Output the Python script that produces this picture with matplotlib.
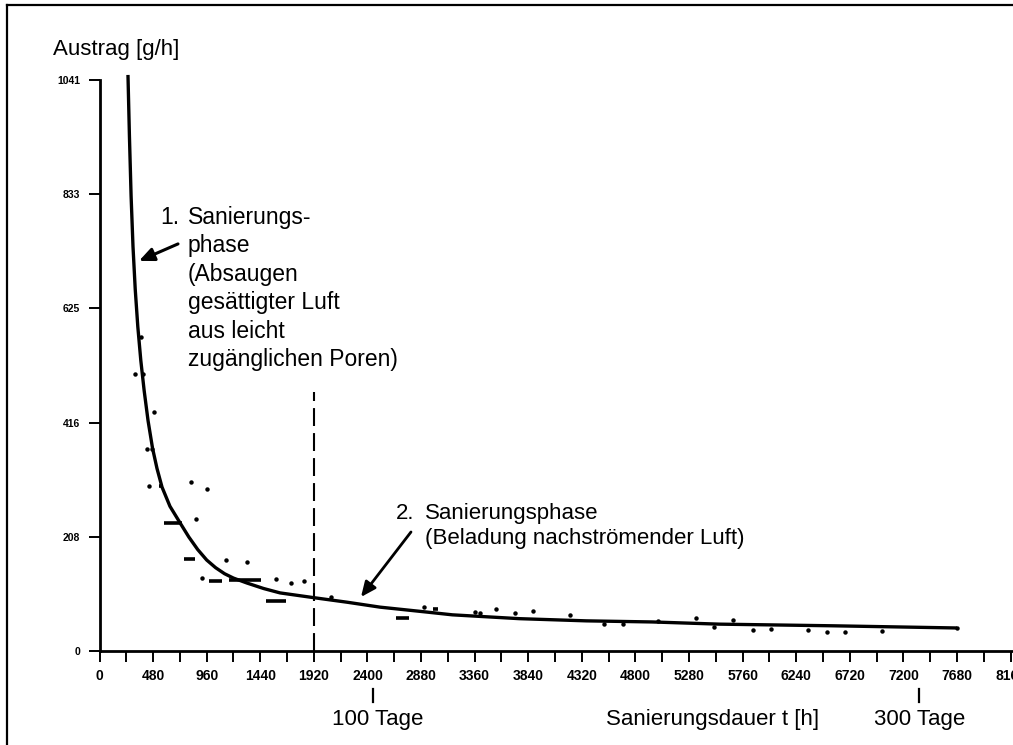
import matplotlib
matplotlib.use("Agg")
import matplotlib.pyplot as plt
from matplotlib.lines import Line2D
from matplotlib.transforms import blended_transform_factory

# ---------------- data ----------------
t_curve = [255, 268, 283, 300, 320, 343, 370, 400, 435, 475, 515, 560, 631, 721,
           800, 880, 960, 1040, 1120, 1200, 1321, 1470, 1617, 1930, 2218, 2513,
           2933, 3160, 3760, 4360, 4950, 5550, 6565, 7680]
v_curve = [1051, 940, 830, 738, 660, 592, 530, 475, 420, 370, 333, 299, 264, 234,
           208, 185, 166, 152, 141, 133, 124, 114, 106, 97, 89, 80,
           71, 66, 59, 55, 53, 49, 46, 42]

t_points = [322, 376, 394, 492, 421, 474, 439, 824, 967, 868, 1137, 1325, 922,
            1585, 1719, 1835, 2077, 2910, 3365, 3410, 3550, 3720, 3885, 4215,
            4520, 4685, 5005, 5345, 5505, 5675, 5850, 6015, 6350, 6515, 6680,
            7010, 7680]
v_points = [506, 573, 506, 436, 369, 369, 301, 308, 295, 241, 166, 162, 133,
            131, 124, 128, 99, 80, 71, 69, 76, 69, 73, 66,
            49, 49, 55, 61, 44, 57, 38, 40, 38, 34, 34,
            36, 42]

dash_start = [537, 582, 761, 985, 1164, 1495, 2659, 2985]
dash_end = [564, 743, 851, 1101, 1450, 1674, 2775, 3030]
dash_value = [301, 234, 168, 128, 129, 91, 61, 76]

x_major = list(range(0, 8161, 480))
x_minor = list(range(0, 8161, 240))
x_labels = [str(v) for v in x_major]
y_ticks = [0, 208, 416, 625, 833, 1041]
y_labels = ["0", "208", "416", "625", "833", "1041"]

phase_boundary_t = 1920
phase_boundary_top = 473
day_marks_t = [2450, 7340]
day_labels = ["100 Tage", "300 Tage"]

REG = ["Liberation Sans", "DejaVu Sans"]
plt.rcParams["font.family"] = REG

W, H = 1013, 745
fig = plt.figure(figsize=(W / 100, H / 100), dpi=100)
ax = fig.add_axes([99.5 / W, (H - 651) / H, (W - 99.5) / W, (651 - 70) / H])
ax.set_xlim(0, 8182)
ax.set_ylim(0, 1060)

# spines
for s in ("top", "right"):
    ax.spines[s].set_visible(False)
ax.spines["left"].set_bounds(0, 1041)
ax.spines["left"].set_linewidth(2.0)
ax.spines["bottom"].set_linewidth(2.0)

ax.set_xticks(x_major)
ax.set_xticklabels(x_labels)
ax.set_xticks(x_minor, minor=True)
ax.set_yticks(y_ticks)
ax.set_yticklabels(y_labels)
ax.tick_params(axis="x", which="both", direction="out", length=8, width=1.4, pad=5)
ax.tick_params(axis="y", which="both", direction="out", length=8, width=1.4, pad=6)
for lab in ax.get_xticklabels():
    lab.set_fontweight("bold")
    lab.set_fontsize(10)
for lab in ax.get_yticklabels():
    lab.set_fontweight("bold")
    lab.set_fontsize(7.5)

# data
ax.plot(t_curve, v_curve, color="black", lw=2.4, solid_capstyle="butt",
        solid_joinstyle="round", clip_on=False)
ax.plot(t_points, v_points, "o", color="black", ms=3.2, mew=0)
ax.hlines(dash_value, dash_start, dash_end, colors="black", lw=2.6)

# phase boundary
ax.vlines(phase_boundary_t, 0, phase_boundary_top, colors="black", lw=1.5,
          linestyles=(0, (8.6, 3.4)))


# annotations
def px2data(x, y):
    return ((x - 99.5) / 0.11165, (651 - y) / 0.548)


ax.text(*px2data(160, 206), "1.", fontsize=16.5, va="top", ha="left")
ax.text(*px2data(188, 206),
        "Sanierungs-\nphase\n(Absaugen\ngesättigter Luft\naus leicht\nzugänglichen Poren)",
        fontsize=16.5, va="top", ha="left", linespacing=1.3)
ax.annotate("", xy=px2data(139, 261), xytext=px2data(178, 244),
            arrowprops=dict(arrowstyle="-|>,head_length=0.9,head_width=0.4",
                            color="black", lw=2.2, shrinkA=0, shrinkB=0))

ax.text(*px2data(396, 503), "2.", fontsize=16, va="top", ha="left")
ax.text(*px2data(425, 503), "Sanierungsphase\n(Beladung nachströmender Luft)",
        fontsize=16, va="top", ha="left", linespacing=1.25)
ax.annotate("", xy=px2data(361, 597), xytext=px2data(411, 532),
            arrowprops=dict(arrowstyle="-|>,head_length=0.9,head_width=0.4",
                            color="black", lw=2.0, shrinkA=0, shrinkB=0))

# y-axis title
fig.text(53 / W, 1 - 50 / H, "Austrag [g/h]", fontsize=16, va="center", ha="left")

# bottom texts
btr = blended_transform_factory(ax.transData, fig.transFigure)
for t in day_marks_t:
    fig.add_artist(Line2D([t, t], [1 - 689 / H, 1 - 702 / H], transform=btr,
                          color="black", lw=1.6))
fig.text(378 / W, 1 - 725 / H, day_labels[0], fontsize=16, ha="center", va="baseline")
fig.text(920 / W, 1 - 725 / H, day_labels[1], fontsize=16, ha="center", va="baseline")
fig.text(713 / W, 1 - 725 / H, "Sanierungsdauer t [h]", fontsize=16, ha="center",
         va="baseline")

# frame (left and top edges visible in the reference)
fig.add_artist(Line2D([7 / W, 7 / W], [0, 1 - 5 / H], transform=fig.transFigure,
                      color="black", lw=1.6))
fig.add_artist(Line2D([7 / W, 1], [1 - 5 / H, 1 - 5 / H], transform=fig.transFigure,
                      color="black", lw=1.6))

fig.savefig("out.png", dpi=100)
